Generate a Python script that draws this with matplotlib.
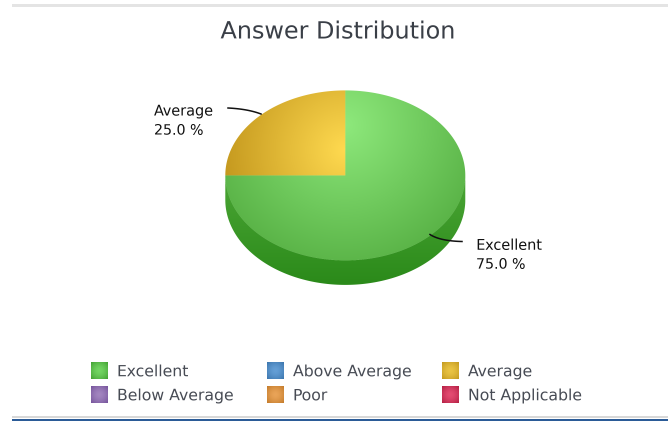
import numpy as np
import matplotlib
matplotlib.use("Agg")
import matplotlib.pyplot as plt
from matplotlib.colors import LinearSegmentedColormap
from matplotlib.patches import PathPatch, Rectangle
from matplotlib.path import Path

W, H = 668, 421
SCALE = 4  # drawn large and averaged down, so clipped edges stay smooth

title = "Answer Distribution"
slice_names = ["Excellent", "Average"]
slice_values = [75.0, 25.0]
legend_names = ["Excellent", "Above Average", "Average", "Below Average", "Poor", "Not Applicable"]
legend_light = ["#74d664", "#659fd6", "#eac444", "#a386c0", "#eaa458", "#e44c72"]
legend_dark = ["#43a234", "#3c76ae", "#c49a20", "#76549c", "#c47c2c", "#b42044"]

# pie geometry in pixels
CX, CY, RX, RY, DEPTH = 345.3, 175.4, 120, 85, 24.5
TEXT = "#474b54"

fig = plt.figure(figsize=(W / 100, H / 100), dpi=100)
ax = fig.add_axes([0, 0, 1, 1])
ax.set_xlim(0, W)
ax.set_ylim(H, 0)
ax.axis("off")

xx, yy = np.meshgrid(np.arange(W) + 0.5, np.arange(H) + 0.5)


def gradient(cx, cy, inner, outer, reach, clip):
    # radial fill over the whole picture, cut down to the clip patch
    d = np.clip(np.hypot(xx - cx, yy - cy) / reach, 0, 1)
    cmap = LinearSegmentedColormap.from_list("g", [inner, outer])
    im = ax.imshow(d, cmap=cmap, vmin=0, vmax=1, extent=(0, W, H, 0), aspect="auto",
                   interpolation="bilinear", zorder=2)
    im.set_clip_path(clip)


def ell_points(start, stop):
    t = np.radians(np.linspace(start, stop, 300))
    return np.column_stack([CX + RX * np.cos(t), CY - RY * np.sin(t)])


# side of the pie
top_edge = ell_points(180, 360)
side_pts = np.vstack([top_edge, top_edge[::-1] + [0, DEPTH], top_edge[:1]])
side = PathPatch(Path(side_pts), fc="none", ec="none", transform=ax.transData)
ax.add_patch(side)
side_d = np.clip((yy - 176) / 108, 0, 1)
side_im = ax.imshow(side_d, cmap=LinearSegmentedColormap.from_list("s", ["#4ba635", "#2b8a1a"]),
                    vmin=0, vmax=1, extent=(0, W, H, 0), aspect="auto",
                    interpolation="bilinear", zorder=1)
side_im.set_clip_path(side)

# top face, slices run clockwise from twelve o'clock
angle = 90.0
fills = {"Excellent": ("#8ee97c", "#50a93d", 345, 125, 170),
         "Average": ("#ffda50", "#c4981e", 345, 150, 125)}
for name, value in zip(slice_names, slice_values):
    sweep = 360.0 * value / sum(slice_values)
    arc = ell_points(angle, angle - sweep)
    pts = np.vstack([[CX, CY], arc, [CX, CY]])
    patch = PathPatch(Path(pts), fc="none", ec="none", transform=ax.transData)
    ax.add_patch(patch)
    inner, outer, gx, gy, reach = fills[name]
    gradient(gx, gy, inner, outer, reach, patch)
    angle -= sweep

# page rules
ax.add_patch(Rectangle((12, 4), W - 12, 3, fc="#e4e4e4", ec="none"))
ax.add_patch(Rectangle((12, 416), W - 12, 2, fc="#d8d8d8", ec="none"))
ax.add_patch(Rectangle((12, 419), W - 12, 2, fc="#2b5b97", ec="none"))

ax.text(338, 32, title, ha="center", va="center", fontsize=17.2, color="#3a3f47")


def leader(p0, p1, p2):
    t = np.linspace(0, 1, 30)[:, None]
    c = (1 - t) ** 2 * np.array(p0) + 2 * t * (1 - t) * np.array(p1) + t ** 2 * np.array(p2)
    ax.plot(c[:, 0], c[:, 1], color="#111111", lw=1.1, zorder=4)


leader((228, 108), (248, 109), (261, 114))
leader((430, 234.5), (440, 241), (462, 241.5))

labels_xy = {"Average": (154, 111.5), "Excellent": (476, 245.5)}
for name, value in zip(slice_names, slice_values):
    x, y = labels_xy[name]
    ax.text(x, y, name, ha="left", va="center", fontsize=10.4, color="#111111", zorder=5)
    ax.text(x, y + 19.5, "%.1f %%" % value, ha="left", va="center", fontsize=10.2, color="#111111", zorder=5)

# legend, three columns
col_x = [91, 267, 442]
row_y = [362, 386]
grid = np.mgrid[-1:1:32j, -1:1:32j]
square = np.clip(np.hypot(grid[0], grid[1]) / 1.41, 0, 1) ** 1.6
for i, name in enumerate(legend_names):
    x = col_x[i % 3]
    y = row_y[i // 3]
    cmap = LinearSegmentedColormap.from_list("k", [legend_light[i], legend_dark[i]])
    ax.imshow(square, cmap=cmap, vmin=0, vmax=1, extent=(x, x + 17, y + 17, y), aspect="auto",
              interpolation="bilinear", zorder=3)
    ax.text(x + 26, y + 10, name, ha="left", va="center", fontsize=11.3, color=TEXT)

ax.set_xlim(0, W)
ax.set_ylim(H, 0)

fig.set_dpi(100 * SCALE)
fig.canvas.draw()
big = np.asarray(fig.canvas.buffer_rgba())[:, :, :3].astype(float)
small = big.reshape(H, SCALE, W, SCALE, 3).mean(axis=(1, 3)) / 255.0
plt.imsave("out.png", small)
